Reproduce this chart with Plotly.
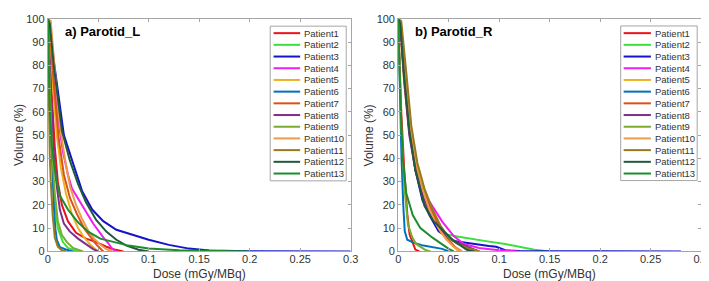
import plotly.graph_objects as go

W, H = 709, 281

patients = [f"Patient{i}" for i in range(1, 14)]
colors = ["#E8141C", "#3CE03C", "#1414C8", "#F01EF0", "#EDB120", "#0072BD", "#D95319",
          "#7E2F8E", "#77AC30", "#EE9A4D", "#957A1E", "#1F5A3C", "#1E8C2D"]

x_ticks = [0, 0.05, 0.1, 0.15, 0.2, 0.25, 0.3]
x_tick_labels = ["0", "0.05", "0.1", "0.15", "0.2", "0.25", "0.3"]
y_ticks = list(range(0, 101, 10))

# ---- a) Parotid_L ----
L1_dose = [0, 0.002, 0.004, 0.007, 0.01, 0.014, 0.02, 0.028, 0.038, 0.048, 0.058, 0.066, 0.075]
L1_vol = [100, 90, 68, 45, 30, 20, 13, 8, 5.5, 4, 2, 0.8, 0]
L2_dose = [0, 0.001, 0.003, 0.006, 0.01, 0.015, 0.02, 0.03]
L2_vol = [100, 80, 52, 25, 10, 4, 1.5, 0]
L3_dose = [0, 0.002, 0.006, 0.011, 0.016, 0.025, 0.034, 0.044, 0.055, 0.068, 0.084, 0.1, 0.12, 0.14, 0.16, 0.2, 0.3]
L3_vol = [100, 99, 82, 65, 50, 38, 26, 18, 13, 9.3, 7, 5, 2.8, 1.2, 0.4, 0.1, 0]
L4_dose = [0, 0.001, 0.005, 0.01, 0.015, 0.02, 0.024, 0.035, 0.045, 0.055, 0.06, 0.064, 0.068]
L4_vol = [100, 97, 78, 58, 43, 33, 27, 19, 12, 6, 3.5, 1, 0]
L5_dose = [0, 0.002, 0.005, 0.009, 0.013, 0.018, 0.024, 0.03, 0.036, 0.042, 0.05]
L5_vol = [100, 95, 72, 50, 36, 25, 16, 10, 6, 3, 0]
L6_dose = [0, 0.001, 0.002, 0.004, 0.006, 0.0075, 0.009, 0.012, 0.018, 0.025]
L6_vol = [100, 85, 68, 45, 20, 10, 5, 1.8, 0.8, 0]
L7_dose = [0, 0.002, 0.006, 0.011, 0.016, 0.022, 0.029, 0.036, 0.042, 0.048, 0.055]
L7_vol = [100, 97, 72, 48, 33, 23, 16, 10, 6.5, 3, 0]
L8_dose = [0, 0.001, 0.003, 0.006, 0.009, 0.012, 0.016, 0.022, 0.03, 0.038, 0.045, 0.05]
L8_vol = [100, 90, 65, 42, 28, 18, 12, 8.5, 5.5, 3, 1, 0]
L9_dose = [0, 0.001, 0.002, 0.004, 0.007, 0.01, 0.014, 0.019, 0.025, 0.035]
L9_vol = [100, 88, 70, 45, 25, 13, 7, 4, 1.5, 0]
L10_dose = [0, 0.003, 0.007, 0.012, 0.017, 0.022, 0.028, 0.034, 0.04, 0.046, 0.052, 0.058, 0.064]
L10_vol = [100, 99, 78, 54, 40, 28, 20, 14, 9, 5.5, 3, 1, 0]
L11_dose = [0, 0.0005, 0.001, 0.002, 0.003, 0.005, 0.007, 0.01, 0.014, 0.018]
L11_vol = [100, 80, 60, 42, 30, 15, 6, 2, 0.5, 0]
L12_dose = [0, 0.002, 0.006, 0.010, 0.014, 0.022, 0.03, 0.038, 0.048, 0.058, 0.068, 0.078, 0.09, 0.1]
L12_vol = [100, 98, 80, 65, 52, 39, 29, 21, 13.5, 8.5, 5, 2.5, 0.7, 0]
L13_dose = [0, 0.001, 0.002, 0.004, 0.008, 0.012, 0.02, 0.03, 0.04, 0.052, 0.065, 0.08, 0.1, 0.13, 0.17, 0.2]
L13_vol = [100, 85, 62, 45, 32, 24, 18, 12.5, 8.5, 5.5, 4, 2.5, 1.3, 0.5, 0.15, 0]

# ---- b) Parotid_R ----
R1_dose = [0, 0.001, 0.003, 0.006, 0.009, 0.0113, 0.0145, 0.017, 0.021]
R1_vol = [100, 85, 60, 35, 16, 7.3, 3.9, 0.8, 0]
R2_dose = [0, 0.002, 0.006, 0.011, 0.018, 0.026, 0.036, 0.048, 0.06, 0.074, 0.09, 0.106, 0.12, 0.135, 0.15]
R2_vol = [100, 98, 75, 52, 34, 22, 13, 7.3, 6.3, 5.2, 4.2, 3.2, 2, 0.7, 0]
R3_dose = [0, 0.002, 0.006, 0.011, 0.017, 0.024, 0.031, 0.04, 0.055, 0.074, 0.09, 0.097, 0.106, 0.12, 0.2, 0.28]
R3_vol = [100, 98, 75, 52, 35, 22, 15.5, 8.6, 4.5, 3.2, 2.3, 2, 0.5, 0.2, 0.1, 0]
R4_dose = [0, 0.002, 0.006, 0.011, 0.017, 0.0226, 0.033, 0.0436, 0.055, 0.065, 0.08, 0.1, 0.119]
R4_vol = [100, 97, 75, 52, 37, 27.2, 20, 12.8, 6.6, 3.2, 1.5, 0.5, 0]
R5_dose = [0, 0.002, 0.006, 0.0113, 0.016, 0.021, 0.028, 0.034, 0.041, 0.047, 0.054, 0.06]
R5_vol = [100, 97, 72, 50, 38, 30, 22, 16, 10, 6, 2.5, 0]
R6_dose = [0, 0.001, 0.002, 0.0033, 0.005, 0.0065, 0.009, 0.0145, 0.025, 0.0436, 0.05]
R6_vol = [100, 80, 60, 40, 20, 8.6, 5, 3.9, 2.5, 1.1, 0]
R7_dose = [0, 0.002, 0.006, 0.012, 0.017, 0.022, 0.028, 0.035, 0.042, 0.049, 0.056, 0.063]
R7_vol = [100, 98, 76, 52, 39, 30, 23, 16, 10, 5.5, 2, 0]
R8_dose = [0, 0.002, 0.006, 0.011, 0.017, 0.025, 0.033, 0.042, 0.05, 0.058, 0.066, 0.074, 0.08]
R8_vol = [100, 97, 73, 50, 35, 23, 15, 9.5, 6, 4, 2.5, 1, 0]
R9_dose = [0, 0.001, 0.003, 0.006, 0.0097, 0.014, 0.0178, 0.0275, 0.032]
R9_vol = [100, 82, 55, 28, 11.4, 6, 3.2, 0.5, 0]
R10_dose = [0, 0.002, 0.007, 0.0125, 0.018, 0.024, 0.03, 0.036, 0.042, 0.048, 0.055, 0.063]
R10_vol = [100, 99, 78, 53, 38, 27, 19, 13, 8.5, 5, 2, 0]
R11_dose = [0, 0.003, 0.008, 0.013, 0.019, 0.026, 0.034, 0.042, 0.05, 0.058, 0.068, 0.081]
R11_vol = [100, 99, 77, 54, 38, 27, 18, 11, 6, 3.5, 1.5, 0]
R12_dose = [0, 0.002, 0.006, 0.011, 0.017, 0.026, 0.035, 0.045, 0.055, 0.062, 0.068, 0.075]
R12_vol = [100, 98, 75, 52, 35, 19.6, 13, 8.6, 4.5, 2.5, 0.7, 0]
R13_dose = [0, 0.0008, 0.002, 0.0035, 0.0048, 0.008, 0.0145, 0.022, 0.034, 0.05, 0.055]
R13_vol = [100, 85, 68, 50, 38.8, 25, 15.5, 10, 5.9, 1.1, 0]

left_curves = [(L1_dose, L1_vol), (L2_dose, L2_vol), (L3_dose, L3_vol), (L4_dose, L4_vol),
               (L5_dose, L5_vol), (L6_dose, L6_vol), (L7_dose, L7_vol), (L8_dose, L8_vol),
               (L9_dose, L9_vol), (L10_dose, L10_vol), (L11_dose, L11_vol), (L12_dose, L12_vol),
               (L13_dose, L13_vol)]
right_curves = [(R1_dose, R1_vol), (R2_dose, R2_vol), (R3_dose, R3_vol), (R4_dose, R4_vol),
                (R5_dose, R5_vol), (R6_dose, R6_vol), (R7_dose, R7_vol), (R8_dose, R8_vol),
                (R9_dose, R9_vol), (R10_dose, R10_vol), (R11_dose, R11_vol), (R12_dose, R12_vol),
                (R13_dose, R13_vol)]

FONT = "Liberation Sans"
AXC = "#A6A6A6"
TXC = "#333333"


def px(x):
    return x / W


def py(y):
    return 1 - y / H


fig = go.Figure()
for (d, v), name, c in zip(left_curves, patients, colors):
    fig.add_trace(go.Scatter(x=d, y=v, mode="lines", name=name, line=dict(color=c, width=2),
                             xaxis="x", yaxis="y", showlegend=False))
for (d, v), name, c in zip(right_curves, patients, colors):
    fig.add_trace(go.Scatter(x=d, y=v, mode="lines", name=name, line=dict(color=c, width=2),
                             xaxis="x2", yaxis="y2", showlegend=False))

axis_common = dict(showline=True, linecolor=AXC, linewidth=1, mirror="ticks", ticks="inside",
                   ticklen=3, tickcolor=AXC, showgrid=False, zeroline=False,
                   ticklabeloverflow="allow",
                   tickfont=dict(family=FONT, size=11, color=TXC))
y_dom = [py(248), py(5)]
fig.update_layout(
    width=W, height=H, autosize=False,
    margin=dict(l=0, r=0, t=0, b=0),
    font=dict(family=FONT),
    paper_bgcolor="white", plot_bgcolor="white",
    xaxis=dict(domain=[px(37.3), px(345)], range=[0, 0.3], tickvals=x_ticks, ticktext=x_tick_labels,
               anchor="y", ticklabelstandoff=-3, **axis_common),
    yaxis=dict(domain=y_dom, range=[0, 100], tickvals=y_ticks, anchor="x", **axis_common),
    xaxis2=dict(domain=[px(393.3), px(701)], range=[0, 0.3], tickvals=x_ticks, ticktext=x_tick_labels,
                anchor="y2", ticklabelstandoff=-3, **axis_common),
    yaxis2=dict(domain=y_dom, range=[0, 100], tickvals=y_ticks, anchor="x2", **axis_common),
    showlegend=False,
)

annotations = []
shapes = []
for cx in [(37.3 + 345) / 2, (393.3 + 701) / 2]:
    annotations.append(dict(x=px(cx), y=py(271.5), xref="paper", yref="paper", text="Dose (mGy/MBq)",
                            showarrow=False, xanchor="center", yanchor="middle",
                            font=dict(family=FONT, size=12, color=TXC)))
for lx in [8, 364]:
    annotations.append(dict(x=px(lx), y=py(126.5), xref="paper", yref="paper", text="Volume (%)",
                            showarrow=False, textangle=-90, xanchor="center", yanchor="middle",
                            font=dict(family=FONT, size=12, color=TXC)))
annotations.append(dict(x=px(53), y=py(18.5), xref="paper", yref="paper", text="<b>a) Parotid_L</b>",
                        showarrow=False, xanchor="left", yanchor="middle",
                        font=dict(family=FONT, size=13, color="black")))
annotations.append(dict(x=px(408), y=py(18.5), xref="paper", yref="paper", text="<b>b) Parotid_R</b>",
                        showarrow=False, xanchor="left", yanchor="middle",
                        font=dict(family=FONT, size=13, color="black")))

for box, sw0, sw1, tx in [((263.3, 12.7, 340.5, 174.3), 266.7, 293.7, 296.0),
                          ((619.3, 12.5, 697.0, 174.0), 622.3, 650.0, 652.0)]:
    shapes.append(dict(type="rect", xref="paper", yref="paper", x0=px(box[0]), x1=px(box[2]),
                       y0=py(box[3]), y1=py(box[1]), line=dict(color=AXC, width=1),
                       fillcolor="white", layer="above"))
    for i, (name, c) in enumerate(zip(patients, colors)):
        yc = 20 + i * 12.22
        shapes.append(dict(type="line", xref="paper", yref="paper", x0=px(sw0), x1=px(sw1),
                           y0=py(yc), y1=py(yc), line=dict(color=c, width=2), layer="above"))
        annotations.append(dict(x=px(tx), y=py(yc), xref="paper", yref="paper", text=name,
                                showarrow=False, xanchor="left", yanchor="middle",
                                font=dict(family=FONT, size=9.5, color=TXC)))

fig.update_layout(annotations=annotations, shapes=shapes)
fig.write_html("out.html")
